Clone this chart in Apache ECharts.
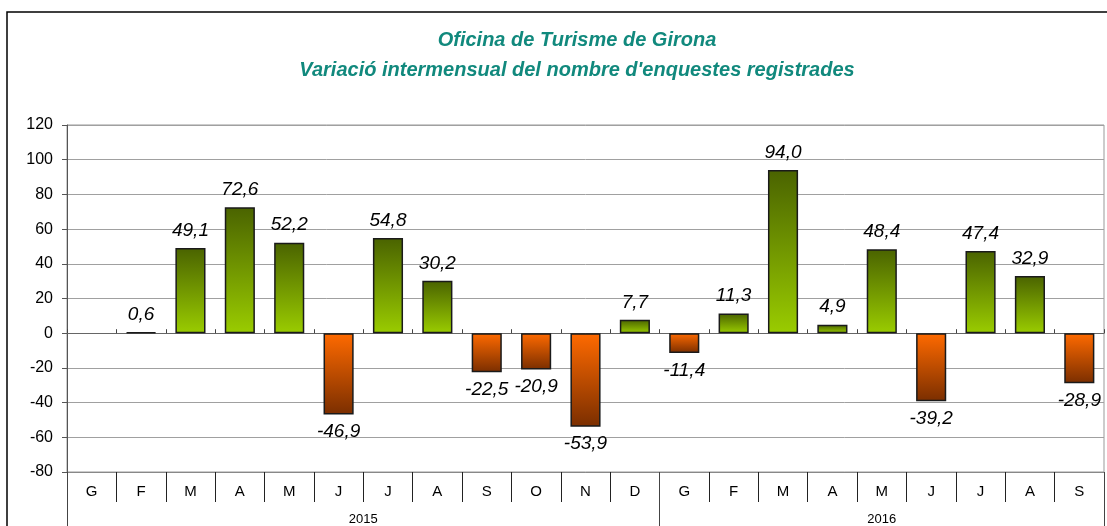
<!DOCTYPE html>
<html>
<head>
<meta charset="utf-8">
<script src="https://cdn.jsdelivr.net/npm/echarts@6/dist/echarts.min.js"></script>
<style>
  html, body { margin: 0; padding: 0; background: #fff; }
  #chart { width: 1107px; height: 526px; }
</style>
</head>
<body>
<div id="chart"></div>
<script>
// dades
var months = ['G', 'F', 'M', 'A', 'M', 'J', 'J', 'A', 'S', 'O', 'N', 'D',
              'G', 'F', 'M', 'A', 'M', 'J', 'J', 'A', 'S'];
var years = ['2015', '2016'];
var yearMonths = [12, 9];
var values = [null, 0.6, 49.1, 72.6, 52.2, -46.9, 54.8, 30.2, -22.5, -20.9, -53.9, 7.7,
              -11.4, 11.3, 94.0, 4.9, 48.4, -39.2, 47.4, 32.9, -28.9];
var yMin = -80, yMax = 120, yStep = 20;

var FONT = '"Liberation Sans", Arial, sans-serif';

// eix d'anys: posicions a mig mes, sense boundaryGap
var yearSlots = [];
var yearTicks = [0];
var pos = 0;
for (var i = 0; i <= months.length * 2; i++) yearSlots.push('');
years.forEach(function (y, k) {
    yearSlots[pos + yearMonths[k]] = y;
    pos += yearMonths[k] * 2;
    yearTicks.push(pos);
});

var greenFill = new echarts.graphic.LinearGradient(0, 0, 0, 1, [
    { offset: 0, color: '#4a6300' },
    { offset: 1, color: '#9acc00' }
]);
var orangeFill = new echarts.graphic.LinearGradient(0, 0, 0, 1, [
    { offset: 0, color: '#ff6a00' },
    { offset: 1, color: '#7a2e00' }
]);

var barData = values.map(function (v) {
    if (v == null) return '-';
    return {
        value: v,
        itemStyle: { color: v >= 0 ? greenFill : orangeFill },
        label: { position: v >= 0 ? 'top' : 'bottom' }
    };
});

var option = {
    backgroundColor: '#fff',
    animation: false,
    title: {
        text: 'Oficina de Turisme de Girona\nVariació intermensual del nombre d\'enquestes registrades',
        left: 572,
        top: 20,
        textAlign: 'center',
        textStyle: {
            fontFamily: FONT,
            fontSize: 20,
            fontStyle: 'italic',
            fontWeight: 'bold',
            color: '#11897d',
            lineHeight: 30
        }
    },
    graphic: [{
        type: 'rect',
        shape: { x: 7, y: 12, width: 1200, height: 600 },
        style: { fill: 'none', stroke: '#000', lineWidth: 1.5 },
        silent: true
    }],
    grid: {
        left: 67, right: 3, top: 125, bottom: 53,
        show: true, borderColor: '#999', borderWidth: 1
    },
    xAxis: [{
        type: 'category',
        data: months,
        position: 'bottom',
        axisLine: { onZero: false, lineStyle: { color: '#888' } },
        axisTick: { show: true, interval: 0, length: 30, lineStyle: { color: '#222' } },
        axisLabel: { interval: 0, margin: 12, fontFamily: FONT, fontSize: 15, color: '#000' }
    }, {
        type: 'category',
        data: yearSlots,
        position: 'bottom',
        boundaryGap: false,
        axisLine: { show: false, onZero: false },
        axisTick: {
            show: true, length: 60,
            interval: function (idx) { return yearTicks.indexOf(idx) >= 0; },
            lineStyle: { color: '#444' }
        },
        axisLabel: { interval: 0, margin: 41, fontFamily: FONT, fontSize: 13, color: '#000' }
    }, {
        type: 'category',
        data: months,
        axisLine: { onZero: true, lineStyle: { color: '#666' } },
        axisTick: { show: true, interval: 0, length: 4, lineStyle: { color: '#444' } },
        axisLabel: { show: false }
    }],
    yAxis: {
        type: 'value',
        min: yMin, max: yMax, interval: yStep,
        axisLine: { show: true, lineStyle: { color: '#555' } },
        axisTick: { show: true, length: 5, lineStyle: { color: '#555' } },
        axisLabel: { fontFamily: FONT, fontSize: 16, color: '#000', margin: 14 },
        splitLine: { lineStyle: { color: '#a0a0a0', width: 1 } }
    },
    series: [{
        type: 'bar',
        xAxisIndex: 0,
        data: barData,
        barWidth: '61%',
        itemStyle: { borderColor: '#1a1a1a', borderWidth: 1.5 },
        label: {
            show: true,
            distance: 8,
            fontFamily: FONT,
            fontSize: 19,
            fontStyle: 'italic',
            color: '#000',
            formatter: function (p) {
                return p.value == null ? '' : p.value.toFixed(1).replace('.', ',');
            }
        }
    }]
};

var chart = echarts.init(document.getElementById('chart'));
chart.setOption(option);
</script>
</body>
</html>
